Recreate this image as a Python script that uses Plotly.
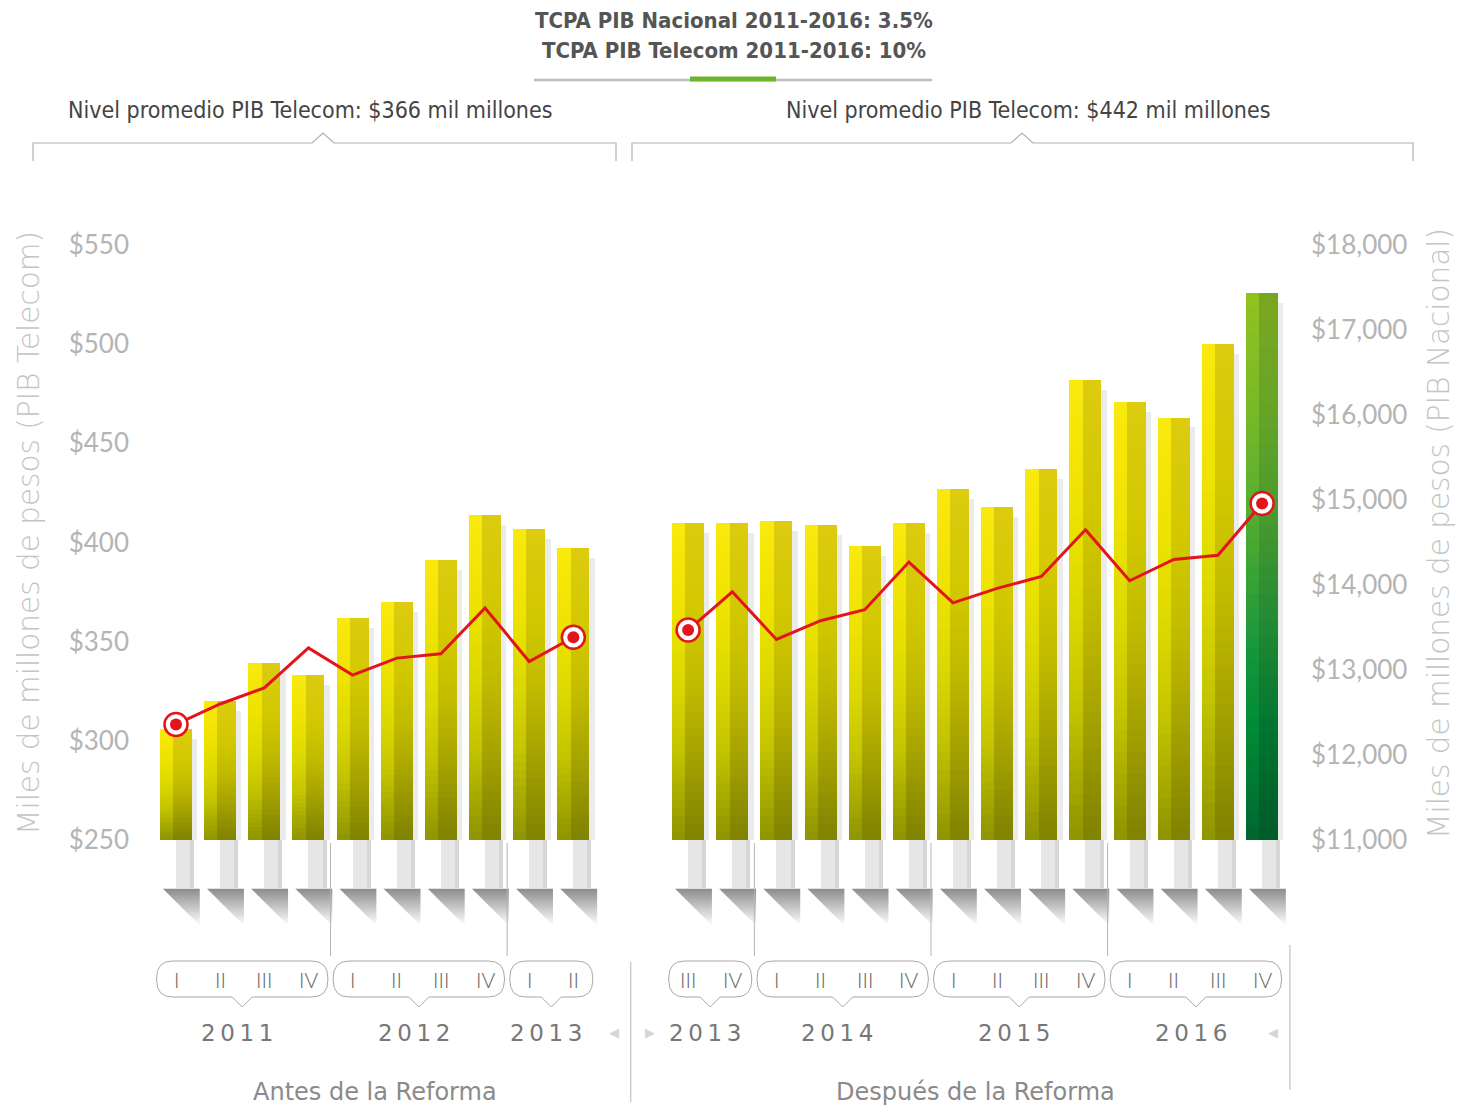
import plotly.graph_objects as go

# ---------------- data ----------------
quarters = ["I", "II", "III", "IV", "I", "II", "III", "IV", "I", "II",
            "III", "IV", "I", "II", "III", "IV", "I", "II", "III", "IV", "I", "II", "III", "IV"]
years = [2011] * 4 + [2012] * 4 + [2013] * 2 + [2013] * 2 + [2014] * 4 + [2015] * 4 + [2016] * 4
period_names = ["Antes de la Reforma", "Después de la Reforma"]
periods = [period_names[0]] * 10 + [period_names[1]] * 14
pib_telecom = [306, 320, 339, 333, 362, 370, 391, 414, 407, 397,
               410, 410, 411, 409, 398, 410, 427, 418, 437, 482, 471, 463, 500, 526]
pib_nacional = [12360, 12600, 12790, 13260, 12940, 13140, 13190, 13730, 13100, 13385,
                13470, 13920, 13360, 13580, 13710, 14270, 13790, 13960, 14100, 14650,
                14050, 14300, 14350, 14960]
telecom_ticks = [250, 300, 350, 400, 450, 500, 550]
nacional_ticks = [11000, 12000, 13000, 14000, 15000, 16000, 17000, 18000]
header_lines = ["TCPA PIB Nacional 2011-2016: 3.5%", "TCPA PIB Telecom 2011-2016: 10%"]
nivel_labels = ["Nivel promedio PIB Telecom: $366 mil millones",
                "Nivel promedio PIB Telecom: $442 mil millones"]
y_title_left = "Miles de millones de pesos (PIB Telecom)"
y_title_right = "Miles de millones de pesos (PIB Nacional)"

# ---------------- geometry / style ----------------
W, H = 1458, 1108
PL, PR = 140, 1300
BAR_STEP_PX = 44.15
FIRST_BAR_PX = 176
GROUP_GAP = 2.6
BASE_PX, TOP_PX = 840, 245
Y_LO, Y_HI = telecom_ticks[0], telecom_ticks[-1]
Y2_LO, Y2_HI = nacional_ticks[0], nacional_ticks[-1]
s1 = (BASE_PX - TOP_PX) / (Y_HI - Y_LO)
s2 = (BASE_PX - TOP_PX) / (Y2_HI - Y2_LO)


def XP(px):
    return (px - PL) / (PR - PL)


def YP(py):
    return 1 - py / H


def yval(py):
    return Y_LO + (BASE_PX - py) / s1


xrange_ = [(PL - FIRST_BAR_PX) / BAR_STEP_PX, (PR - FIRST_BAR_PX) / BAR_STEP_PX]
yrange = [Y_LO - (H - BASE_PX) / s1, Y_LO + BASE_PX / s1]
y2range = [Y2_LO - (H - BASE_PX) / s2, Y2_LO + BASE_PX / s2]

xpos = [i if p == period_names[0] else i + GROUP_GAP - 1 for i, p in enumerate(periods)]
n = len(pib_telecom)
HL = n - 1  # highlighted (green) bar


def hex2rgb(h):
    h = h.lstrip("#")
    return [int(h[i:i + 2], 16) for i in (0, 2, 4)]


def interp(stops, f):
    for (f0, c0), (f1, c1) in zip(stops[:-1], stops[1:]):
        if f <= f1:
            t = (f - f0) / (f1 - f0)
            a, b = hex2rgb(c0), hex2rgb(c1)
            return "rgb(%d,%d,%d)" % tuple(round(a[j] + (b[j] - a[j]) * t) for j in range(3))
    return stops[-1][1]


YEL_L = [(0, "#8e9400"), (0.12, "#a4a800"), (0.3, "#c6c600"), (0.5, "#dcd800"),
         (0.7, "#ece200"), (0.88, "#f6e608"), (1.0, "#fbe90c")]
YEL_R = [(0, "#7e8200"), (0.3, "#aaa600"), (0.5, "#c2bc00"), (0.7, "#d2c800"), (1.0, "#dccb10")]
GRN_L = [(0, "#00662e"), (0.2, "#008a36"), (0.35, "#17963a"), (0.55, "#4aa934"),
         (0.75, "#72b82a"), (1.0, "#93c220")]
GRN_R = [(0, "#005a28"), (0.2, "#007530"), (0.4, "#238a34"), (0.6, "#4a9a2e"),
         (0.8, "#68a526"), (1.0, "#7aa620")]

fig = go.Figure()

# bar right-side soft shadow
fig.add_bar(x=xpos, y=[v - Y_LO - 5 for v in pib_telecom], base=Y_LO, width=0.12, offset=0.3625,
            marker=dict(color="#ebebeb", line=dict(width=0)), hoverinfo="skip", showlegend=False)

# bars (vertical gradient built from stacked bar slices)
N = 40
LW, RW = 0.30, 0.425
LOFF = -0.3625
ROFF = LOFF + LW
for k in range(N):
    f0 = k / N
    fm = (k + 0.5) / N
    base = [Y_LO + (v - Y_LO) * f0 for v in pib_telecom]
    h = [(v - Y_LO) / N for v in pib_telecom]
    cl = [interp(GRN_L if i == HL else YEL_L, fm) for i in range(n)]
    cr = [interp(GRN_R if i == HL else YEL_R, fm) for i in range(n)]
    fig.add_bar(x=xpos, y=h, base=base, width=LW, offset=LOFF,
                marker=dict(color=cl, line=dict(width=0)), hoverinfo="skip", showlegend=False)
    fig.add_bar(x=xpos, y=h, base=base, width=RW, offset=ROFF,
                marker=dict(color=cr, line=dict(width=0)), hoverinfo="skip", showlegend=False)

# decorative arrows under bars
col_base = yval(888)
fig.add_bar(x=xpos, y=[Y_LO - col_base] * n, base=col_base, width=0.32, offset=0.0,
            marker=dict(color="#e6e6e6", line=dict(width=0)), hoverinfo="skip", showlegend=False)
fig.add_bar(x=xpos, y=[Y_LO - col_base] * n, base=col_base, width=0.09, offset=0.32,
            marker=dict(color="#d6d6d6", line=dict(width=0)), hoverinfo="skip", showlegend=False)
fig.add_scatter(x=[p + 0.26 for p in xpos], y=[yval(901)] * n, mode="markers",
                marker=dict(symbol="triangle-ne", size=41, color="#8c8c8c",
                            gradient=dict(type="vertical", color="#ffffff"), line=dict(width=0)),
                hoverinfo="skip", showlegend=False)

# PIB Nacional line (two segments, one per period)
for pname in period_names:
    idx = [i for i in range(n) if periods[i] == pname]
    fig.add_scatter(x=[xpos[i] for i in idx], y=[pib_nacional[i] for i in idx], yaxis="y2",
                    mode="lines", line=dict(color="#e2141c", width=3),
                    hoverinfo="skip", showlegend=False)
    ends = [idx[0], idx[-1]]
    fig.add_scatter(x=[xpos[i] for i in ends], y=[pib_nacional[i] for i in ends], yaxis="y2",
                    mode="markers",
                    marker=dict(size=23, color="#ffffff", line=dict(color="#e2141c", width=2.5)),
                    hoverinfo="skip", showlegend=False)
    fig.add_scatter(x=[xpos[i] for i in ends], y=[pib_nacional[i] for i in ends], yaxis="y2",
                    mode="markers", marker=dict(size=12, color="#e2141c", line=dict(width=0)),
                    hoverinfo="skip", showlegend=False)

annotations = []
shapes = []
FONT = "Lato, 'Open Sans', sans-serif"
WIDE = "'DejaVu Sans', sans-serif"
COND = "'Liberation Sans Narrow', 'DejaVu Sans Condensed', 'Roboto', sans-serif"


def ann(**kw):
    d = dict(showarrow=False, xanchor="center", yanchor="middle")
    d.update(kw)
    annotations.append(d)


# quarter labels
for i in range(n):
    ann(x=xpos[i], y=YP(979), xref="x", yref="paper", text=quarters[i],
        font=dict(family=FONT, size=21, color="#666666", weight=300))

# year groups (runs of same period & year)
runs = []
start = 0
for i in range(1, n + 1):
    if i == n or years[i] != years[start] or periods[i] != periods[start]:
        runs.append((start, i - 1))
        start = i

rx, ry = 16 / BAR_STEP_PX, 17 / H
for (a, b) in runs:
    x0, x1 = xpos[a] - 0.44, xpos[b] + 0.44
    xc = (x0 + x1) / 2
    pw = 10 / BAR_STEP_PX
    yt, yb, ytip = YP(961), YP(997), YP(1007)
    path = (f"M {x0 + rx},{yt} L {x1 - rx},{yt} Q {x1},{yt} {x1},{yt - ry} "
            f"L {x1},{yb + ry} Q {x1},{yb} {x1 - rx},{yb} L {xc + pw},{yb} L {xc},{ytip} "
            f"L {xc - pw},{yb} L {x0 + rx},{yb} Q {x0},{yb} {x0},{yb + ry} "
            f"L {x0},{yt - ry} Q {x0},{yt} {x0 + rx},{yt} Z")
    shapes.append(dict(type="path", path=path, xref="x", yref="paper",
                       line=dict(color="#a8a8a8", width=1), fillcolor="rgba(0,0,0,0)", layer="below"))
    ann(x=xc - 0.12, y=YP(1033), xref="x", yref="paper",
        text="\u2009".join(str(years[a])), font=dict(family=WIDE, size=23, color="#777777"))

# separators between years within a period
for (a, b), (c, d) in zip(runs[:-1], runs[1:]):
    xm = (xpos[b] + xpos[c]) / 2
    if periods[b] == periods[c]:
        shapes.append(dict(type="line", xref="x", yref="paper", x0=xm, x1=xm, y0=YP(843), y1=YP(956),
                           line=dict(color="#b5b5b5", width=1)))
    else:
        shapes.append(dict(type="line", xref="x", yref="paper", x0=xm, x1=xm, y0=YP(962), y1=YP(1102),
                           line=dict(color="#b5b5b5", width=1)))
        ann(x=xpos[b] + 0.92, y=YP(1032), xref="x", yref="paper", text="◀",
            font=dict(size=13, color="#d6d6d6"))
        ann(x=xpos[c] - 0.86, y=YP(1032), xref="x", yref="paper", text="▶",
            font=dict(size=13, color="#d6d6d6"))
shapes.append(dict(type="line", xref="x", yref="paper", x0=xpos[-1] + 0.63, x1=xpos[-1] + 0.63,
                   y0=YP(945), y1=YP(1090), line=dict(color="#b5b5b5", width=1)))
ann(x=xpos[-1] + 0.25, y=YP(1032), xref="x", yref="paper", text="◀",
    font=dict(size=13, color="#d6d6d6"))

# period labels
for pname in period_names:
    ps = [xpos[i] for i in range(n) if periods[i] == pname]
    ann(x=sum(ps) / len(ps), y=YP(1092), xref="x", yref="paper", text=pname,
        font=dict(family=WIDE, size=24, color="#8a8a8a"))

# header
ann(x=XP(734), y=YP(20), xref="paper", yref="paper", text="<b>%s</b>" % header_lines[0],
    font=dict(family=COND, size=22, color="#555555"))
ann(x=XP(734), y=YP(51), xref="paper", yref="paper", text="<b>%s</b>" % header_lines[1],
    font=dict(family=COND, size=22, color="#555555"))
shapes.append(dict(type="line", xref="paper", yref="paper", x0=XP(534), x1=XP(932), y0=YP(80), y1=YP(80),
                   line=dict(color="#bdbdbd", width=2.5)))
shapes.append(dict(type="line", xref="paper", yref="paper", x0=XP(690), x1=XP(776), y0=YP(79), y1=YP(79),
                   line=dict(color="#6db52d", width=5)))

# nivel labels + brackets
for txt, cx, (bx0, bx1), caret in zip(nivel_labels, [310, 1028], [(33, 616), (632, 1413)], [323, 1022]):
    ann(x=XP(cx), y=YP(110), xref="paper", yref="paper", text=txt,
        font=dict(family=COND, size=23, color="#444444"))
    path = (f"M {XP(bx0)},{YP(161)} L {XP(bx0)},{YP(143)} L {XP(caret - 11)},{YP(143)} "
            f"L {XP(caret)},{YP(133)} L {XP(caret + 11)},{YP(143)} L {XP(bx1)},{YP(143)} "
            f"L {XP(bx1)},{YP(161)}")
    shapes.append(dict(type="path", path=path, xref="paper", yref="paper",
                       line=dict(color="#b0b0b0", width=1.2)))

# axis titles
ann(x=XP(29), y=YP(533), xref="paper", yref="paper", text=y_title_left, textangle=-90,
    font=dict(family=WIDE, size=29.5, color="#c4c4c4", weight=200))
ann(x=XP(1439), y=YP(534), xref="paper", yref="paper", text=y_title_right, textangle=-90,
    font=dict(family=WIDE, size=29.5, color="#c4c4c4", weight=200))

fig.update_layout(
    width=W, height=H, template="none", barmode="overlay", bargap=0,
    paper_bgcolor="white", plot_bgcolor="white",
    margin=dict(l=PL, r=W - PR, t=0, b=0, autoexpand=False),
    showlegend=False,
    xaxis=dict(range=xrange_, visible=False, fixedrange=True),
    yaxis=dict(range=yrange, tickvals=telecom_ticks, ticktext=[f"${v:,}" for v in telecom_ticks],
               showgrid=False, zeroline=False, showline=False, ticks="", ticklabelstandoff=10,
               tickfont=dict(family=FONT, size=26, color="#b4b4b4")),
    yaxis2=dict(range=y2range, overlaying="y", side="right", tickvals=nacional_ticks,
                ticktext=[f"${v:,}" for v in nacional_ticks],
                showgrid=False, zeroline=False, showline=False, ticks="",
                ticklabelstandoff=10, tickfont=dict(family=FONT, size=26, color="#b4b4b4")),
    annotations=annotations,
    shapes=shapes,
)

fig.write_html("out.html", config={"displayModeBar": False},
               post_script="document.body.style.margin='0px';")
